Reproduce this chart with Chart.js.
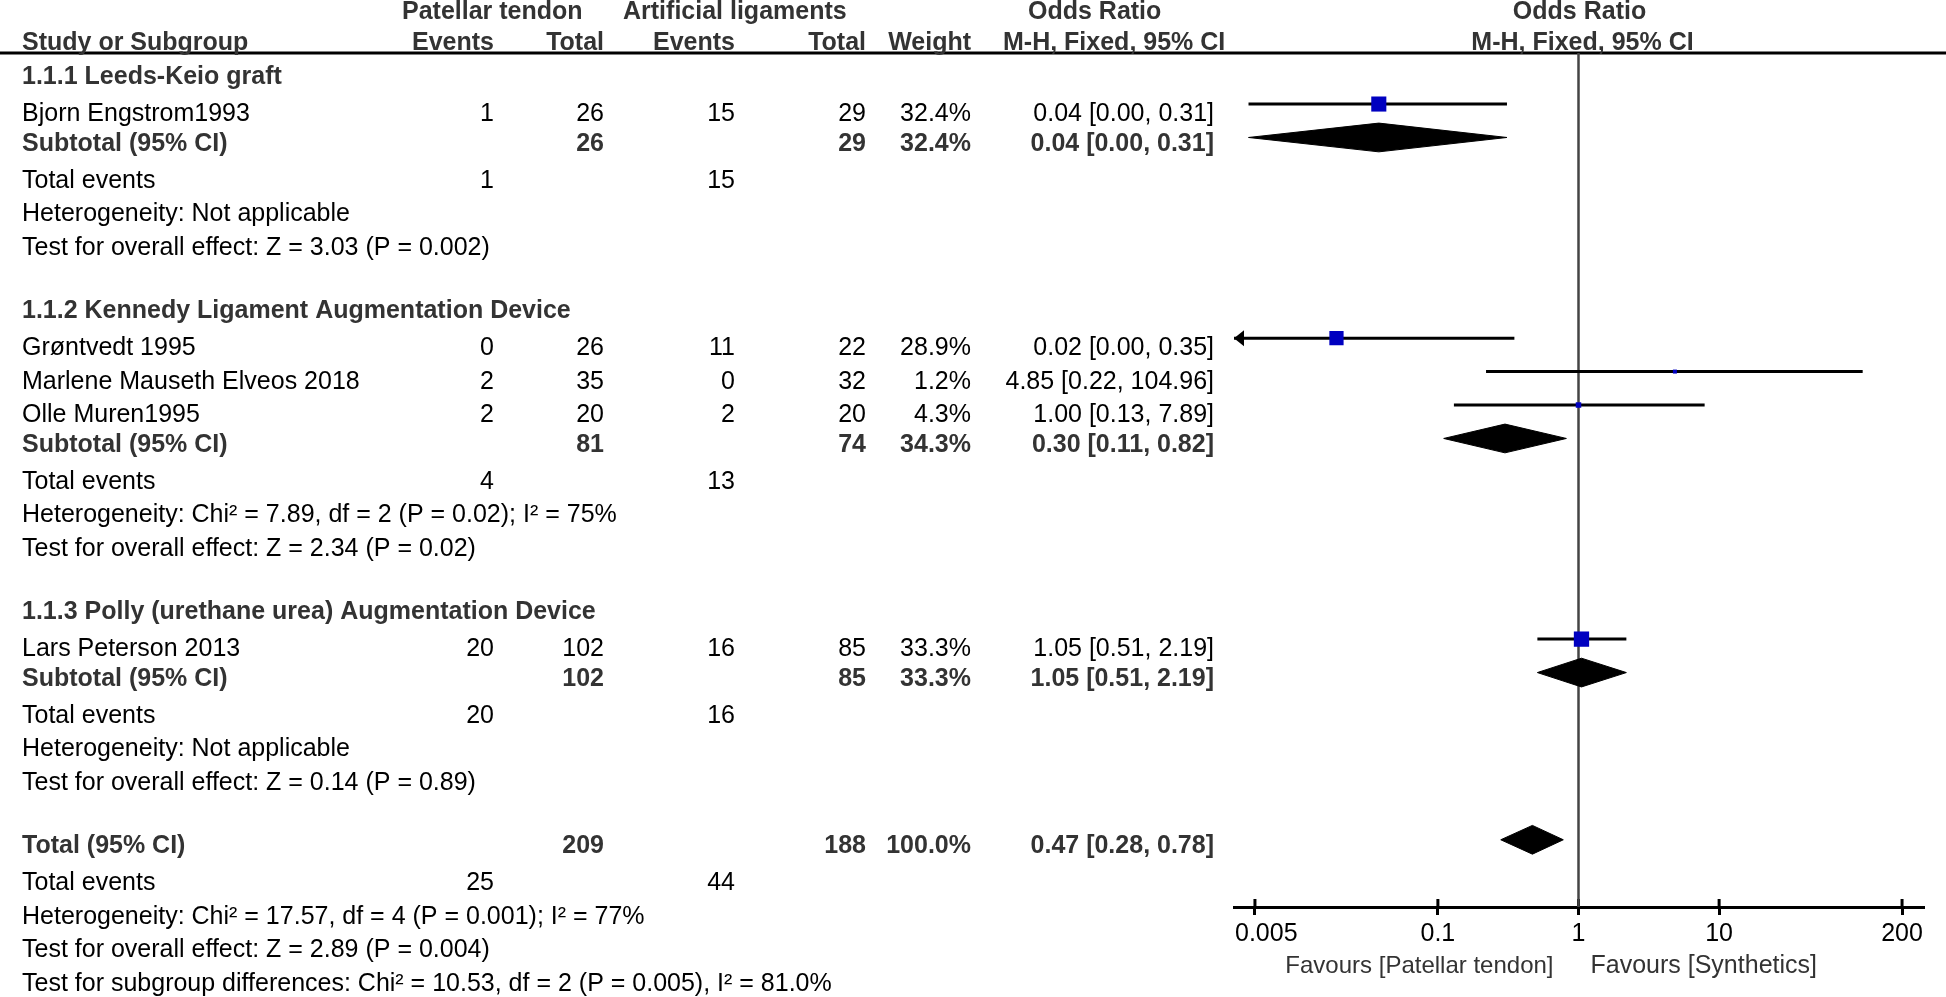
<!DOCTYPE html>
<html>
<head>
<meta charset="utf-8">
<title>Forest plot</title>
<script src="https://cdn.jsdelivr.net/npm/chart.js@4.4.1/dist/chart.umd.min.js"></script>
<style>
html, body { margin: 0; padding: 0; background: #ffffff; }
#forest { display: block; }
</style>
</head>
<body>
<canvas id="forest" width="1946" height="997"></canvas>
<script>

// ---- data ----

const studyNames = ["Bjorn Engstrom1993", "Grøntvedt 1995", "Marlene Mauseth Elveos 2018", "Olle Muren1995", "Lars Peterson 2013"];
const studyRows = [1, 8, 9, 10, 17];
const ptEvents = [1, 0, 2, 2, 20];
const ptTotal = [26, 26, 35, 20, 102];
const alEvents = [15, 11, 0, 2, 16];
const alTotal = [29, 22, 32, 20, 85];
const studyWeight = [32.4, 28.9, 1.2, 4.3, 33.3];
const studyOR = [0.038, 0.019, 4.85, 1.00, 1.05];
const studyLower = [0.0045, 0.001, 0.22, 0.13, 0.51];
const studyUpper = [0.31, 0.35, 104.96, 7.89, 2.19];

const poolLabels = ["Subtotal (95% CI)", "Subtotal (95% CI)", "Subtotal (95% CI)", "Total (95% CI)"];
const poolRows = [2, 11, 18, 23];
const poolPtTotal = [26, 81, 102, 209];
const poolAlTotal = [29, 74, 85, 188];
const poolWeight = [32.4, 34.3, 33.3, 100.0];
const poolOR = [0.038, 0.30, 1.05, 0.47];
const poolLower = [0.0045, 0.11, 0.51, 0.28];
const poolUpper = [0.31, 0.82, 2.19, 0.78];

const eventRows = [3, 12, 19, 24];
const ptEventSum = [1, 4, 20, 25];
const alEventSum = [15, 13, 16, 44];

const groupRows = [0, 7, 16];
const groupTitles = [
    "1.1.1 Leeds-Keio graft",
    "1.1.2 Kennedy Ligament Augmentation Device",
    "1.1.3 Polly (urethane urea) Augmentation Device"
];

const noteRows = [4, 5, 13, 14, 20, 21, 25, 26, 27];
const noteTexts = [
    "Heterogeneity: Not applicable",
    "Test for overall effect: Z = 3.03 (P = 0.002)",
    "Heterogeneity: Chi² = 7.89, df = 2 (P = 0.02); I² = 75%",
    "Test for overall effect: Z = 2.34 (P = 0.02)",
    "Heterogeneity: Not applicable",
    "Test for overall effect: Z = 0.14 (P = 0.89)",
    "Heterogeneity: Chi² = 17.57, df = 4 (P = 0.001); I² = 77%",
    "Test for overall effect: Z = 2.89 (P = 0.004)",
    "Test for subgroup differences: Chi² = 10.53, df = 2 (P = 0.005), I² = 81.0%"
];

const tickValues = [0.005, 0.1, 1, 10, 200];
const tickLabels = ["0.005", "0.1", "1", "10", "200"];

const favourLeft = "Favours [Patellar tendon]";
const favourRight = "Favours [Synthetics]";


// ---- layout / style ----

const FONT = '"Liberation Sans", Arial, sans-serif';
const BOLD_COLOR = "#333333";
const BLUE = "#0000c0";
const X_MIN = Math.pow(10, -2.45);
const X_MAX = Math.pow(10, 2.45);
const Y_MIN = -0.526;
const Y_MAX = 25.01;
const DIAMOND_H = 0.43;
const TEXT_DROP = 17;      // baseline below the mark line, plain rows
const BOLD_DROP = 13.5;    // headings and pooled rows sit a bit higher

// right edges of the number columns, left edge of names
const COL = { name: 22, ptEv: 494, ptN: 604, alEv: 735, alN: 866, weight: 971, ci: 1214 };

function ciText(or, lo, hi) {
    return or.toFixed(2) + " [" + lo.toFixed(2) + ", " + hi.toFixed(2) + "]";
}

function put(ctx, s, x, y, align, bold, color, size) {
    ctx.font = (bold ? "bold " : "") + (size || 25) + "px " + FONT;
    ctx.fillStyle = color || (bold ? BOLD_COLOR : "#000000");
    ctx.textAlign = align;
    ctx.textBaseline = "alphabetic";
    ctx.fillText(s, x, y);
}


// lines behind the marks: header rule, line of no effect, inner tick halves
const guidePlugin = {
    id: "guides",
    beforeDraw(chart) {
        // first tick label is kept inside the axis, like RevMan does
        const xs = chart.scales.x;
        const items = xs.getLabelItems(chart.chartArea);
        if (items.length) {
            items[0].options.textAlign = "left";
            items[0].options.translation[0] = xs.left + 1;
        }
    },

    beforeDatasetsDraw(chart) {
        const ctx = chart.ctx;
        const xs = chart.scales.x;
        const area = chart.chartArea;

        ctx.save();
        ctx.strokeStyle = "#000000";
        ctx.lineWidth = 3;
        ctx.beginPath();
        ctx.moveTo(0, area.top);
        ctx.lineTo(chart.width, area.top);
        ctx.stroke();

        tickValues.forEach(v => {
            const px = xs.getPixelForValue(v);
            ctx.beginPath();
            ctx.moveTo(px, area.bottom - 8);
            ctx.lineTo(px, area.bottom);
            ctx.stroke();
        });

        const nullX = xs.getPixelForValue(1);
        ctx.strokeStyle = "#444444";
        ctx.lineWidth = 2.5;
        ctx.beginPath();
        ctx.moveTo(nullX, area.top);
        ctx.lineTo(nullX, area.bottom);
        ctx.stroke();
        ctx.restore();
    },

    afterDatasetsDraw(chart) {
        // arrow heads where a CI runs off the left end of the axis
        const ctx = chart.ctx;
        const xs = chart.scales.x;
        const ys = chart.scales.y;
        ctx.save();
        ctx.fillStyle = "#000000";
        studyLower.forEach((lo, i) => {
            if (lo >= X_MIN) return;
            const py = ys.getPixelForValue(studyRows[i]);
            ctx.beginPath();
            ctx.moveTo(xs.left, py);
            ctx.lineTo(xs.left + 10, py - 8);
            ctx.lineTo(xs.left + 10, py + 8);
            ctx.closePath();
            ctx.fill();
        });
        ctx.restore();
    }
};


// the table to the left of the plot
const tablePlugin = {
    id: "table",
    afterDraw(chart) {
        const ctx = chart.ctx;
        const ys = chart.scales.y;
        const nullX = chart.scales.x.getPixelForValue(1);
        const base = r => ys.getPixelForValue(r) + TEXT_DROP;
        const baseBold = r => ys.getPixelForValue(r) + BOLD_DROP;

        ctx.save();

        // column headers
        put(ctx, "Patellar tendon", 402, 18.5, "left", true);
        put(ctx, "Artificial ligaments", 623, 18.5, "left", true);
        put(ctx, "Odds Ratio", 1028, 18.5, "left", true);
        put(ctx, "Odds Ratio", nullX + 1, 18.5, "center", true);

        put(ctx, "Study or Subgroup", COL.name, 50, "left", true);
        put(ctx, "Events", COL.ptEv, 50, "right", true);
        put(ctx, "Total", COL.ptN, 50, "right", true);
        put(ctx, "Events", COL.alEv, 50, "right", true);
        put(ctx, "Total", COL.alN, 50, "right", true);
        put(ctx, "Weight", COL.weight, 50, "right", true);
        put(ctx, "M-H, Fixed, 95% CI", 1003, 50, "left", true);
        put(ctx, "M-H, Fixed, 95% CI", nullX + 4, 50, "center", true);

        groupTitles.forEach((t, i) => put(ctx, t, COL.name, baseBold(groupRows[i]), "left", true));

        studyNames.forEach((name, i) => {
            const y = base(studyRows[i]);
            put(ctx, name, COL.name, y, "left", false);
            put(ctx, String(ptEvents[i]), COL.ptEv, y, "right", false);
            put(ctx, String(ptTotal[i]), COL.ptN, y, "right", false);
            put(ctx, String(alEvents[i]), COL.alEv, y, "right", false);
            put(ctx, String(alTotal[i]), COL.alN, y, "right", false);
            put(ctx, studyWeight[i].toFixed(1) + "%", COL.weight, y, "right", false);
            put(ctx, ciText(studyOR[i], studyLower[i], studyUpper[i]), COL.ci, y, "right", false);
        });

        poolLabels.forEach((label, i) => {
            const y = baseBold(poolRows[i]);
            put(ctx, label, COL.name, y, "left", true);
            put(ctx, String(poolPtTotal[i]), COL.ptN, y, "right", true);
            put(ctx, String(poolAlTotal[i]), COL.alN, y, "right", true);
            put(ctx, poolWeight[i].toFixed(1) + "%", COL.weight, y, "right", true);
            put(ctx, ciText(poolOR[i], poolLower[i], poolUpper[i]), COL.ci, y, "right", true);
        });

        eventRows.forEach((r, i) => {
            const y = base(r);
            put(ctx, "Total events", COL.name, y, "left", false);
            put(ctx, String(ptEventSum[i]), COL.ptEv, y, "right", false);
            put(ctx, String(alEventSum[i]), COL.alEv, y, "right", false);
        });

        noteTexts.forEach((t, i) => put(ctx, t, COL.name, base(noteRows[i]), "left", false));

        // axis captions
        put(ctx, favourLeft, nullX - 25, 973, "right", false, "#333333", 24);
        put(ctx, favourRight, nullX + 12, 973, "left", false, "#333333", 25);

        ctx.restore();
    }
};


// ---- datasets ----

const ciSets = studyOR.map((v, i) => ({
    type: "line",
    data: [
        { x: Math.max(studyLower[i], X_MIN), y: studyRows[i] },
        { x: studyUpper[i], y: studyRows[i] }
    ],
    borderColor: "#000000",
    borderWidth: 3,
    pointRadius: 0,
    fill: false,
    order: 3
}));

const squareSet = {
    type: "scatter",
    data: studyOR.map((v, i) => ({ x: v, y: studyRows[i] })),
    pointStyle: "rect",
    pointRadius: studyWeight.map(w => Math.max(4, 26.5 * Math.sqrt(w / 100)) / Math.SQRT2),
    backgroundColor: BLUE,
    borderWidth: 0,
    order: 1
};

// each diamond = upper half filled down to its lower half
const diamondSets = [];
poolOR.forEach((v, i) => {
    const r = poolRows[i];
    diamondSets.push({
        type: "line",
        data: [{ x: poolLower[i], y: r }, { x: v, y: r - DIAMOND_H }, { x: poolUpper[i], y: r }],
        borderColor: "#000000",
        backgroundColor: "#000000",
        borderWidth: 1,
        pointRadius: 0,
        tension: 0,
        fill: "+1",
        order: 2
    });
    diamondSets.push({
        type: "line",
        data: [{ x: poolLower[i], y: r }, { x: v, y: r + DIAMOND_H }, { x: poolUpper[i], y: r }],
        borderColor: "#000000",
        backgroundColor: "#000000",
        borderWidth: 1,
        pointRadius: 0,
        tension: 0,
        fill: false,
        order: 2
    });
});


new Chart(document.getElementById("forest"), {
    type: "scatter",
    data: {
        datasets: diamondSets.concat(ciSets, [squareSet])
    },
    options: {
        responsive: false,
        animation: false,
        devicePixelRatio: 1,
        events: [],
        layout: {
            padding: { left: 1234, right: 23, top: 53, bottom: 0 }
        },
        plugins: {
            legend: { display: false },
            tooltip: { enabled: false }
        },
        scales: {
            x: {
                type: "logarithmic",
                position: "bottom",
                min: X_MIN,
                max: X_MAX,
                afterBuildTicks: scale => {
                    scale.ticks = tickValues.map(v => ({ value: v }));
                },
                afterFit: scale => {
                    scale.height = 90;
                },
                ticks: {
                    callback: (v, i) => tickLabels[i],
                    autoSkip: false,
                    maxRotation: 0,
                    padding: 4,
                    color: "#000000",
                    font: { family: FONT, size: 25 }
                },
                grid: {
                    drawOnChartArea: false,
                    drawTicks: true,
                    tickLength: 8,
                    lineWidth: 3,
                    tickWidth: 3,
                    tickColor: "#000000",
                    color: "#000000"
                },
                border: { display: true, color: "#000000", width: 3 }
            },
            y: {
                type: "linear",
                display: false,
                reverse: true,
                min: Y_MIN,
                max: Y_MAX
            }
        }
    },
    plugins: [guidePlugin, tablePlugin]
});

</script>
</body>
</html>
